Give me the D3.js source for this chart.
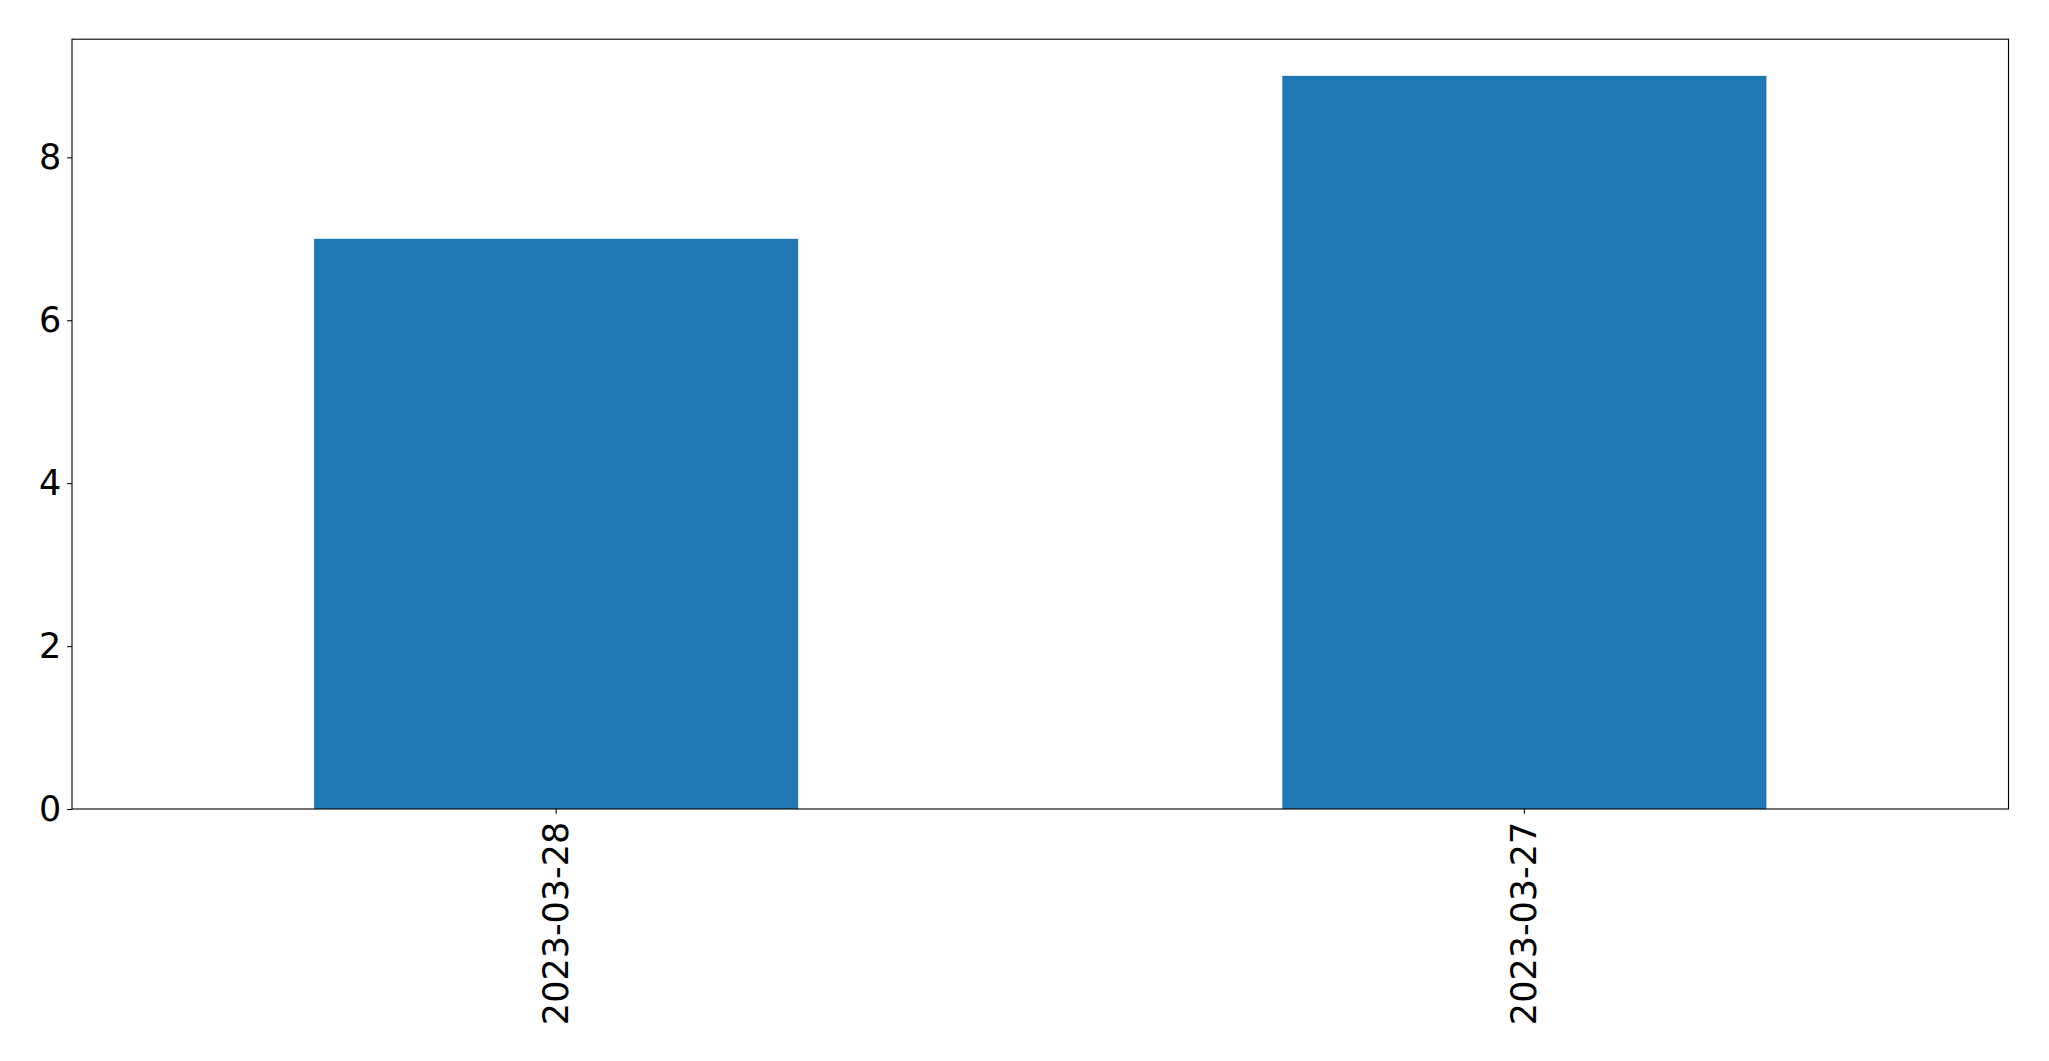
<!DOCTYPE html>
<html>
<head>
<meta charset="utf-8">
<script src="https://cdn.jsdelivr.net/npm/d3@7"></script>
<style>
  html, body { margin: 0; padding: 0; background: #fff; }
  svg { display: block; }
  text { font-family: 'DejaVu Sans', sans-serif; }
</style>
</head>
<body>
<svg id="chart" width="2049" height="1061"></svg>
<script>
const categories = ["2023-03-28", "2023-03-27"];
const values = [7, 9];
const yTicks = [0, 2, 4, 6, 8];

const W = 2049, H = 1061;
const margin = { left: 72, right: 2049 - 2008.5, top: 39.2, bottom: 1061 - 809 };
const svg = d3.select("#chart");
const fontSize = 35;
const tickLen = 4.86;
const pad = 4.86;

const x = d3.scaleBand()
  .domain(categories)
  .range([margin.left, W - margin.right])
  .paddingInner(0.5)
  .paddingOuter(0.25);

const y = d3.scaleLinear()
  .domain([0, d3.max(values) * 1.05])
  .range([H - margin.bottom, margin.top]);

// bars
svg.append("g")
  .selectAll("rect")
  .data(values)
  .join("rect")
  .attr("x", (d, i) => x(categories[i]))
  .attr("y", d => y(d))
  .attr("width", x.bandwidth())
  .attr("height", d => y(0) - y(d))
  .attr("fill", "#1f77b4");

// y axis
const yAxis = svg.append("g")
  .attr("transform", `translate(${margin.left},0)`)
  .call(d3.axisLeft(y).tickValues(yTicks).tickSize(tickLen).tickPadding(pad + 1).tickFormat(d3.format("d")));
yAxis.attr("font-family", null);
yAxis.select(".domain").remove();
yAxis.selectAll(".tick line").attr("stroke", "#000").attr("stroke-width", 1.1);
yAxis.selectAll(".tick text")
  .attr("font-size", fontSize)
  .attr("fill", "#000")
  .style("font-family", "'DejaVu Sans', sans-serif");

// x axis
const xAxis = svg.append("g")
  .attr("transform", `translate(0,${H - margin.bottom})`)
  .call(d3.axisBottom(x).tickSize(tickLen).tickPadding(pad));
xAxis.attr("font-family", null);
xAxis.select(".domain").remove();
xAxis.selectAll(".tick line").attr("stroke", "#000").attr("stroke-width", 1.1);
xAxis.selectAll(".tick text")
  .attr("font-size", fontSize)
  .attr("fill", "#000")
  .style("font-family", "'DejaVu Sans', sans-serif")
  .attr("text-anchor", "end")
  .attr("dy", null)
  .attr("dominant-baseline", "central")
  .attr("y", 0)
  .attr("transform", `translate(0,${tickLen + pad + 3}) rotate(-90)`);

// frame
svg.append("rect")
  .attr("x", margin.left)
  .attr("y", margin.top)
  .attr("width", W - margin.right - margin.left)
  .attr("height", H - margin.bottom - margin.top)
  .attr("fill", "none")
  .attr("stroke", "#000")
  .attr("stroke-width", 1.1);
</script>
</body>
</html>
